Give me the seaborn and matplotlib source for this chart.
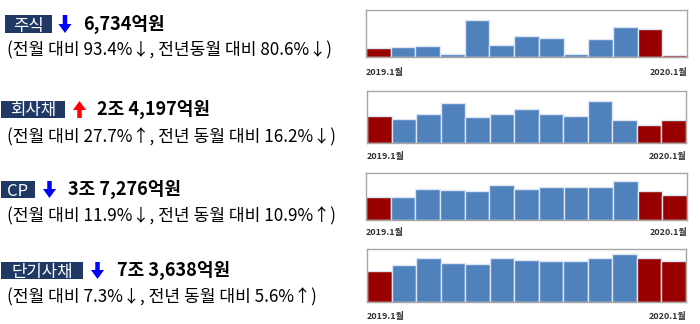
import matplotlib
matplotlib.use("Agg")
import matplotlib.pyplot as plt
import seaborn as sns
import pandas as pd
from matplotlib.patches import Rectangle, FancyArrow

sns.set_theme(style="white")
plt.rcParams['font.family'] = ['Noto Sans CJK KR', 'DejaVu Sans']

# ---- data ----
months = ['2019.1', '2019.2', '2019.3', '2019.4', '2019.5', '2019.6', '2019.7',
          '2019.8', '2019.9', '2019.10', '2019.11', '2019.12', '2020.1']
stock = [34700, 37600, 41300, 12100, 136000, 42500, 75300, 69200, 9700, 65600, 109300, 102000, 6734]
corp = [28875, 25600, 31200, 43100, 28100, 30900, 36100, 30500, 28400, 44500, 24900, 18948, 24197]
cp = [33613, 34300, 45200, 44200, 42700, 51200, 46200, 48200, 48200, 49200, 58100, 42311, 37276]
stb = [55800, 66500, 79600, 69500, 67700, 78400, 74800, 73600, 73600, 79000, 85500, 79437, 73638]
ymax = [172000, 55400, 69600, 95000]

names = ['주식', '회사채', 'CP', '단기사채']
up = [False, True, False, False]
amounts = ['6,734억원', '2조 4,197억원', '3조 7,276억원', '7조 3,638억원']
details = ['(전월 대비 93.4%↓, 전년동월 대비 80.6%↓)',
           '(전월 대비 27.7%↑, 전년 동월 대비 16.2%↓)',
           '(전월 대비 11.9%↓, 전년 동월 대비 10.9%↑)',
           '(전월 대비 7.3%↓, 전년 동월 대비 5.6%↑)']
first_label = '2019.1월'
last_label = '2020.1월'

BLUE = '#4F81BD'
RED = '#990000'
NAVY = '#1F3864'

W, H = 700, 324
fig = plt.figure(figsize=(W / 100, H / 100), dpi=100)

# overlay in pixel coordinates
ov = fig.add_axes([0, 0, 1, 1])
ov.set_xlim(0, W)
ov.set_ylim(H, 0)
ov.axis('off')

# chart boxes: (x0, y0, x1, y1) in pixels
boxes = [(366, 10, 687, 57), (367, 91, 686, 143), (366, 173, 687, 220), (367, 249, 686, 302)]
label_y = [72, 157, 232, 317]

series = [stock, corp, cp, stb]
colors = [RED] + [BLUE] * 10 + [RED, RED]

for i, (vals, (x0, y0, x1, y1)) in enumerate(zip(series, boxes)):
    ax = fig.add_axes([x0 / W, 1 - y1 / H, (x1 - x0) / W, (y1 - y0) / H])
    df = pd.DataFrame({'month': months, 'value': vals})
    sns.barplot(data=df, x='month', y='value', hue='month', palette=colors,
                saturation=1, width=1.0, edgecolor='#DCE6F2', linewidth=1.0,
                legend=False, ax=ax)
    ax.set_xlim(-0.5, len(months) - 0.5)
    ax.set_ylim(0, ymax[i])
    ax.set_xticks([])
    ax.set_yticks([])
    ax.set_xlabel('')
    ax.set_ylabel('')
    for s in ax.spines.values():
        s.set_visible(True)
        s.set_color('#A6A6A6')
        s.set_linewidth(1.0)
    ov.text(x0, label_y[i], first_label, ha='left', va='center', fontsize=6.5,
            fontweight='bold', color='#333333')
    ov.text(x1, label_y[i], last_label, ha='right', va='center', fontsize=6.5,
            fontweight='bold', color='#333333')

# left-side text blocks
tag_boxes = [(5, 15, 52, 33), (1, 101, 65, 118), (1, 181, 35, 198), (1, 262, 83, 279)]
arrow_x = [65, 79.5, 49.5, 97.5]
amount_x = [83, 97, 68, 117]
detail_y = [50, 137, 216, 297]

for i in range(4):
    bx0, by0, bx1, by1 = tag_boxes[i]
    ov.add_patch(Rectangle((bx0, by0), bx1 - bx0, by1 - by0, facecolor=NAVY,
                           edgecolor='none'))
    cy = (by0 + by1) / 2
    ov.text((bx0 + bx1) / 2, by1 - 2.5, names[i], ha='center', va='baseline',
            fontsize=12, color='white')
    ax_ = arrow_x[i]
    if up[i]:
        ov.add_patch(FancyArrow(ax_, by1, 0, -(by1 - by0), width=4.5, head_width=13,
                                head_length=9, length_includes_head=True,
                                color='#FF0000', linewidth=0))
    else:
        ov.add_patch(FancyArrow(ax_, by0, 0, (by1 - by0), width=4.5, head_width=13,
                                head_length=9, length_includes_head=True,
                                color='#0000FF', linewidth=0))
    ov.text(amount_x[i], cy, amounts[i], ha='left', va='center', fontsize=13,
            fontweight='bold', color='black')
    ov.text(7, detail_y[i], details[i], ha='left', va='center', fontsize=12.3,
            fontweight='medium', color='black')

fig.savefig('out.png', dpi=100)
